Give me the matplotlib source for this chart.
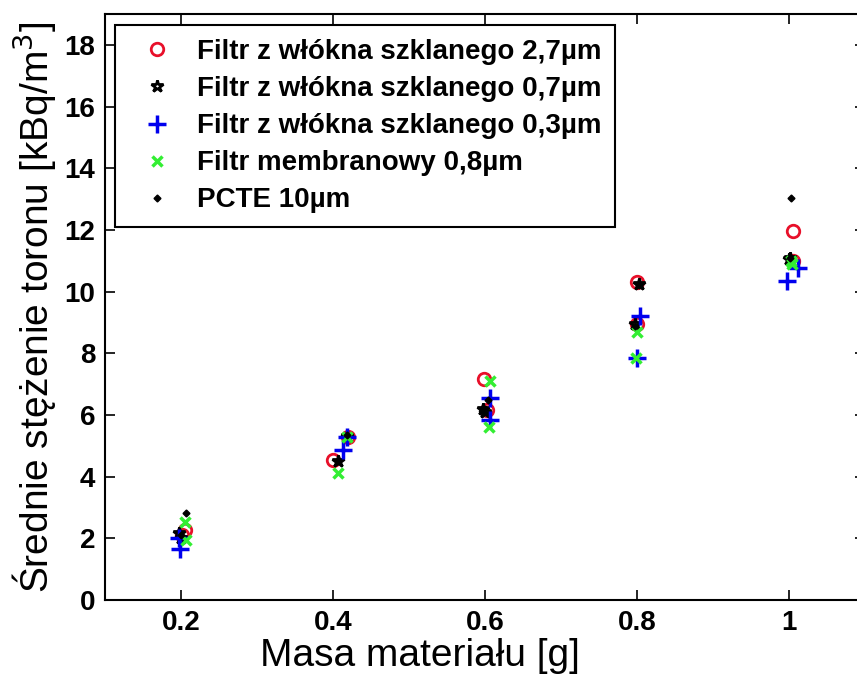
import matplotlib
matplotlib.use("Agg")
import matplotlib.pyplot as plt

plt.rcParams['font.family'] = ['Liberation Sans', 'DejaVu Sans']

# masses [g] and mean thoron concentration [kBq/m3], two runs per mass
x_27 = [0.205, 0.201, 0.400, 0.420, 0.599, 0.602, 0.800, 0.800, 1.005, 1.005]
y_27 = [2.26, 2.10, 4.55, 5.28, 7.17, 6.16, 10.32, 8.95, 11.96, 11.00]

x_07 = [0.197, 0.200, 0.407, 0.418, 0.597, 0.600, 0.797, 0.802, 1.000, 1.001]
y_07 = [2.17, 2.02, 4.50, 5.33, 6.20, 6.10, 8.95, 10.25, 11.05, 11.10]

x_03 = [0.198, 0.199, 0.413, 0.418, 0.606, 0.607, 0.804, 0.800, 1.012, 0.997]
y_03 = [2.00, 1.64, 4.85, 5.30, 6.54, 5.84, 9.20, 7.85, 10.77, 10.34]

x_08 = [0.205, 0.206, 0.407, 0.419, 0.607, 0.605, 0.800, 0.799, 1.003, 1.004]
y_08 = [2.53, 1.94, 4.11, 5.30, 7.11, 5.62, 8.70, 7.85, 11.00, 10.90]

x_pc = [0.206, 0.200, 0.419, 0.406, 0.598, 0.604, 0.803, 0.798, 1.003, 1.001]
y_pc = [2.83, 2.10, 5.35, 4.50, 6.20, 6.50, 10.20, 8.90, 13.03, 11.10]

labels = ["Filtr z włókna szklanego 2,7µm",
          "Filtr z włókna szklanego 0,7µm",
          "Filtr z włókna szklanego 0,3µm",
          "Filtr membranowy 0,8µm",
          "PCTE 10µm"]

xticks = [0.2, 0.4, 0.6, 0.8, 1.0]
xticklabels = ["0.2", "0.4", "0.6", "0.8", "1"]
yticks = list(range(0, 19, 2))

fig = plt.figure(figsize=(8.57, 6.77), dpi=100)
ax = fig.add_axes([105 / 857, 77 / 677, 760 / 857, 586 / 677])

ax.plot(x_27, y_27, 'o', ls='none', mfc='none', mec='#e8102a', mew=2, ms=9, label=labels[0])
ax.plot(x_07, y_07, '*', ls='none', mfc='none', mec='black', mew=2, ms=9, label=labels[1])
ax.plot(x_03, y_03, '+', ls='none', mec='#0000ee', mew=2.5, ms=13, label=labels[2])
ax.plot(x_08, y_08, 'x', ls='none', mec='#33ee33', mew=2.5, ms=7, label=labels[3])
ax.plot(x_pc, y_pc, 'D', ls='none', mfc='black', mec='black', ms=3.5, label=labels[4])

ax.set_xlim(0.1, 1.1)
ax.set_ylim(0, 19)
ax.set_xticks(xticks)
ax.set_xticklabels(xticklabels)
ax.set_yticks(yticks)
ax.tick_params(direction='in', length=7, width=1.2, top=True, right=True,
               labelsize=20, pad=7)
for lab in ax.get_xticklabels() + ax.get_yticklabels():
    lab.set_fontweight('bold')
for s in ax.spines.values():
    s.set_linewidth(1.5)

ax.set_xlabel("Masa materiału [g]", fontsize=28)
ax.xaxis.set_label_coords(0.415, -0.064)
ax.set_ylabel("Średnie stężenie toronu [kBq/m$^3$]", fontsize=28)
ax.yaxis.set_label_coords(-0.062, 0.5)

leg = ax.legend(loc='upper left', bbox_to_anchor=(0.013, 0.981), borderaxespad=0,
                prop={'weight': 'bold', 'size': 20}, fancybox=False,
                edgecolor='black', framealpha=1, handlelength=2.0,
                handletextpad=0.45, labelspacing=0.4, borderpad=0.5)
leg.get_frame().set_linewidth(1.5)

fig.savefig("out.png", dpi=100)
